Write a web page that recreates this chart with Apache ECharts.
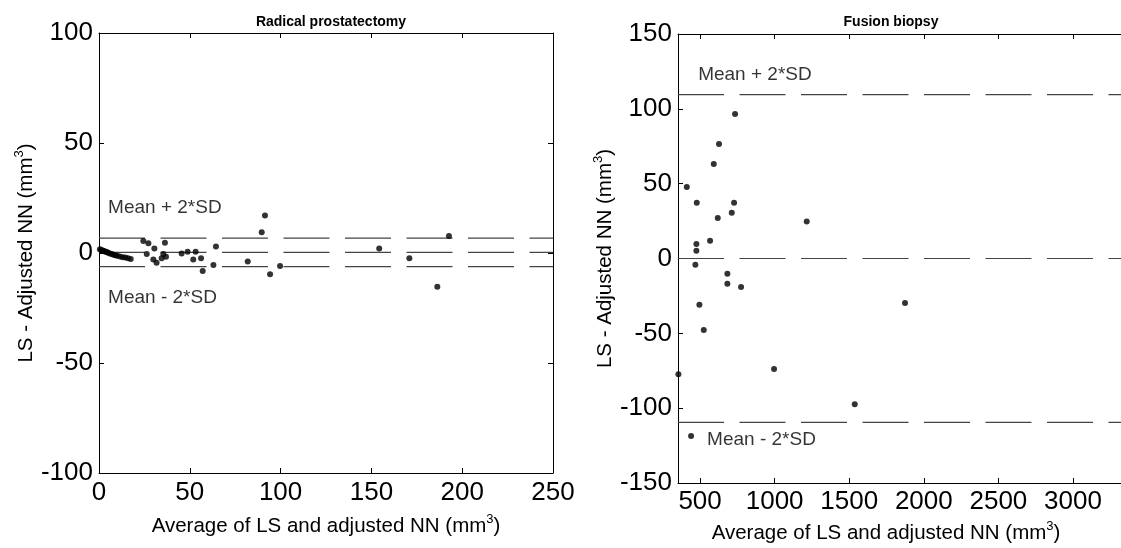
<!DOCTYPE html>
<html><head><meta charset="utf-8">
<script src="https://cdn.jsdelivr.net/npm/echarts@6/dist/echarts.min.js"></script>
<style>html,body{margin:0;padding:0;background:#fff}#c{width:1121px;height:548px}</style>
</head><body><div id="c"></div><script>
// ---- Data: Radical prostatectomy ----
const rpAvg  = [0.5,1.2,2,2.8,3.5,4.3,5,6,7,8,9,10,11.5,13,14.5,16,17.5,
                24.4,27.2,26.3,30.5,29.9,31.7,36.3,35.4,34.5,36.9,45.5,48.8,53.2,51.9,56.2,57.1,63,64.4,81.9,89.6,91.4,94.2,99.7,154.3,170.9,192.7,186.3];
const rpDiff = [1.7,1.4,1.1,0.9,0.6,0.4,0.1,-0.2,-0.5,-0.8,-1.0,-1.3,-1.6,-1.9,-2.1,-2.4,-2.7,
                5.5,4.4,-0.5,2.1,-2.9,-4.4,4.7,-0.5,-2.4,-1.7,-0.2,0.6,0.6,-2.9,-2.4,-8.2,-5.5,2.9,-3.9,9.4,17,-9.7,-5.9,2.0,-2.4,7.7,-15.3];
const rpLoA  = [6.8, 0.3, -6.2];           // mean+2SD, mean, mean-2SD
const rpNotes = ['Mean + 2*SD', 'Mean - 2*SD'];
const rpNoteX = [5, 5];
const rpNoteY = [20.5, -20.5];

// ---- Data: Fusion biopsy ----
const fbAvg  = [354.6,410.9,439.7,468.5,475.2,475.2,477.9,495.5,524.8,567,591.8,618.6,627,683,683,712.5,727.9,734.6,774.8,996,1215,1537,1874];
const fbDiff = [-77.4,47.8,-118.6,-4.1,9.7,5.2,37.3,-30.9,-47.8,11.9,63.1,27.1,76.5,-10.2,-16.8,30.6,37.3,96.5,-19,-73.8,24.8,-97.4,-29.7];
const fbLoA  = [109.5, 0, -109.5];
const fbNotes = ['Mean + 2*SD', 'Mean - 2*SD'];
const fbNoteX = [487, 547];
const fbNoteY = [122.6, -121.3];
const fbXTicks = [500, 1000, 1500, 2000, 2500, 3000];

const titles = ['Radical prostatectomy', 'Fusion biopsy'];
const xName = 'Average of LS and adjusted NN (mm';
const yName = 'LS - Adjusted NN (mm';

const FONT = "'Liberation Sans', Arial, Helvetica, sans-serif";
const rich = {
  n: {fontSize: 20.5, fontFamily: FONT, color: '#000', lineHeight: 24, verticalAlign: 'bottom'},
  s: {fontSize: 13, fontFamily: FONT, color: '#000', lineHeight: 24, verticalAlign: 'top', padding: [0,0,10,0]}
};
const nameStr = t => '{n|' + t + '}{s|3}{n|)}';

const lineAxis = {show: true, onZero: false, lineStyle: {color: '#000', width: 1}};
const tickIn = {show: true, inside: true, length: 5, lineStyle: {color: '#000', width: 1}};
const lbl = {fontSize: 26, fontFamily: FONT, color: '#000', formatter: v => String(v)};

const RP_X = [0, 250], FB_X = [352, 3322];

function loaSeries(vals, xr, xi, yi) {
  return vals.map(v => ({
    type: 'line', xAxisIndex: xi, yAxisIndex: yi, symbol: 'none', silent: true,
    data: [[xr[0], v], [xr[1], v]],
    lineStyle: {color: '#444', width: 1.2, type: [46, 15.5]}, z: 2
  }));
}
function noteSeries(notes, xs, ys, xi, yi) {
  return {
    type: 'scatter', xAxisIndex: xi, yAxisIndex: yi, symbolSize: 0, silent: true,
    data: notes.map((t, i) => ({value: [xs[i], ys[i]], name: t})),
    label: {show: true, position: 'right', distance: 0, formatter: '{b}',
            fontSize: 19, fontFamily: FONT, color: '#000'}
  };
}

const chart = echarts.init(document.getElementById('c'), null, {renderer: 'canvas'});
chart.setOption({
  animation: false,
  backgroundColor: '#fff',
  title: [
    {text: titles[0], left: 326, top: 10, textAlign: 'center',
     textStyle: {fontSize: 14, fontWeight: 'bold', fontFamily: FONT, color: '#000'}},
    {text: titles[1], left: 886, top: 10, textAlign: 'center',
     textStyle: {fontSize: 14, fontWeight: 'bold', fontFamily: FONT, color: '#000'}}
  ],
  grid: [
    {left: 99, top: 33, width: 454, height: 440, containLabel: false},
    {left: 678, top: 34, width: 443, height: 449, containLabel: false}
  ],
  xAxis: [
    {gridIndex: 0, type: 'value', min: RP_X[0], max: RP_X[1], interval: 50, position: 'bottom',
     axisLine: lineAxis, axisTick: tickIn, splitLine: {show: false},
     axisLabel: Object.assign({margin: 7}, lbl),
     name: nameStr(xName), nameLocation: 'middle', nameGap: 40,
     nameTextStyle: {rich: rich}},
    {gridIndex: 0, type: 'value', min: RP_X[0], max: RP_X[1], interval: 50, position: 'top',
     axisLine: lineAxis, axisTick: tickIn, splitLine: {show: false}, axisLabel: {show: false}},
    {gridIndex: 1, type: 'value', min: FB_X[0], max: FB_X[1], position: 'bottom',
     axisLine: lineAxis, axisTick: Object.assign({customValues: fbXTicks}, tickIn), splitLine: {show: false},
     axisLabel: Object.assign({margin: 6, customValues: fbXTicks}, lbl)},
    {gridIndex: 1, type: 'value', min: FB_X[0], max: FB_X[1], position: 'top',
     axisLine: lineAxis, axisTick: Object.assign({customValues: fbXTicks}, tickIn), splitLine: {show: false},
     axisLabel: {show: false}}
  ],
  yAxis: [
    {gridIndex: 0, type: 'value', min: -100, max: 100, interval: 50, position: 'left',
     axisLine: lineAxis, axisTick: tickIn, splitLine: {show: false},
     axisLabel: Object.assign({margin: 6}, lbl),
     name: nameStr(yName), nameLocation: 'middle', nameGap: 42, nameRotate: 90,
     nameTextStyle: {rich: rich}},
    {gridIndex: 0, type: 'value', min: -100, max: 100, interval: 50, position: 'right',
     axisLine: lineAxis, axisTick: tickIn, splitLine: {show: false}, axisLabel: {show: false}},
    {gridIndex: 1, type: 'value', min: -150, max: 150, interval: 50, position: 'left',
     axisLine: lineAxis, axisTick: tickIn, splitLine: {show: false},
     axisLabel: Object.assign({margin: 6}, lbl),
     name: nameStr(yName), nameLocation: 'middle', nameGap: 55, nameRotate: 90,
     nameTextStyle: {rich: rich}}
  ],
  graphic: [
    {type: 'text',
     style: {text: nameStr(xName), rich: rich, x: 886, y: 520, textAlign: 'center'}}
  ],
  series: [
    {type: 'scatter', xAxisIndex: 0, yAxisIndex: 0, symbolSize: 6, clip: false,
     itemStyle: {color: '#000'}, data: rpAvg.map((x, i) => [x, rpDiff[i]]), z: 5},
    ...loaSeries(rpLoA, RP_X, 0, 0),
    noteSeries(rpNotes, rpNoteX, rpNoteY, 0, 0),
    {type: 'scatter', xAxisIndex: 2, yAxisIndex: 2, symbolSize: 6, clip: false,
     itemStyle: {color: '#000'}, data: fbAvg.map((x, i) => [x, fbDiff[i]]), z: 5},
    ...loaSeries(fbLoA, FB_X, 2, 2),
    noteSeries(fbNotes, fbNoteX, fbNoteY, 2, 2)
  ]
});
</script></body></html>
